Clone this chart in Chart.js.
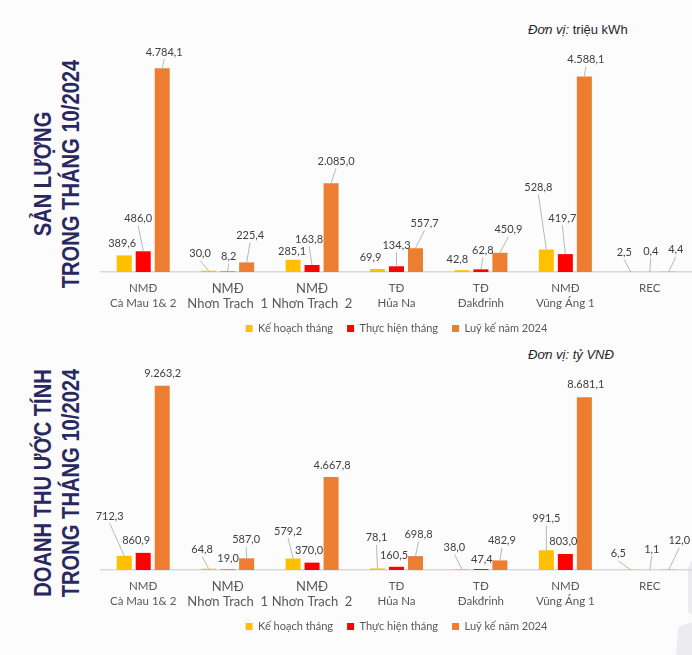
<!DOCTYPE html>
<html lang="vi">
<head>
<meta charset="utf-8">
<title>Sản lượng và doanh thu tháng 10/2024</title>
<script src="https://cdn.jsdelivr.net/npm/chart.js@4.4.1/dist/chart.umd.min.js"></script>
<style>
  body { margin: 0; background: #fcfcfd; }
  #wrap { position: relative; width: 692px; height: 655px; overflow: hidden; background: #fcfcfd; }
  canvas { position: absolute; left: 0; }
  .vtitle {
    position: absolute; width: 320px; height: 44px; line-height: 22px;
    font: bold 24px "Liberation Sans", Arial, sans-serif; color: #2a2860;
    text-align: center; white-space: nowrap;
    transform: rotate(-90deg) scaleX(0.84);
  }
  .unit {
    position: absolute; left: 528px; font: 13px "Liberation Sans", Arial, sans-serif;
    color: #262626; line-height: 16px; white-space: nowrap;
  }
  .deco { position: absolute; background: #ececee; }
</style>
</head>
<body>
<div id="wrap">
  <div class="deco" style="left:682px;top:560px;width:10px;height:55px;clip-path:polygon(60% 15%,100% 0,100% 100%,60% 95%)"></div>
  <div class="deco" style="left:676px;top:622px;width:16px;height:33px;clip-path:polygon(15% 15%,100% 0,100% 100%,0 100%)"></div>

  <div class="vtitle" style="left:-109px;top:152px">SẢN LƯỢNG<br>TRONG THÁNG 10/2024</div>
  <div class="vtitle" style="left:-109px;top:461px">DOANH THU ƯỚC TÍNH<br>TRONG THÁNG 10/2024</div>

  <div class="unit" style="top:22px"><i>Đơn vị:</i> triệu kWh</div>
  <div class="unit" style="top:347px"><i>Đơn vị: tỷ VNĐ</i></div>

  <canvas id="outputChart" width="692" height="344" style="top:0"></canvas>
  <canvas id="revenueChart" width="692" height="344" style="top:298px"></canvas>
</div>

<script>
// categories (plants)
const categories = [
  ['NMĐ', 'Cà Mau 1& 2'],
  ['NMĐ', 'Nhơn Trạch  1'],
  ['NMĐ', 'Nhơn Trạch  2'],
  ['TĐ', 'Hủa Na'],
  ['TĐ', 'Đakđrinh'],
  ['NMĐ', 'Vũng Áng 1'],
  ['REC']
];
const seriesNames = ['Kế hoạch tháng', 'Thực hiện tháng', 'Luỹ kế năm 2024'];

// Sản lượng (triệu kWh)
const outputPlan   = [389.6, 30.0, 285.1, 69.9, 42.8, 528.8, 2.5];
const outputActual = [486.0, 8.2, 163.8, 134.3, 62.8, 419.7, 0.4];
const outputYtd    = [4784.1, 225.4, 2085.0, 557.7, 450.9, 4588.1, 4.4];

// Doanh thu (tỷ VNĐ)
const revenuePlan   = [712.3, 64.8, 579.2, 78.1, 38.0, 991.5, 6.5];
const revenueActual = [860.9, 19.0, 370.0, 160.5, 47.4, 803.0, 1.1];
const revenueYtd    = [9263.2, 587.0, 4667.8, 698.8, 482.9, 8681.1, 12.0];

const outputMax = 5000;
const revenueMax = 10000;

const seriesColors = ['#FFC000', '#FF0000', '#ED7D31'];

// where each value label sits, in px from the top of its bar (layout only)
const outputLabelPos = [
  [[-2, -12], [-8.5, -17], [-1, -8], [-7, -12], [-4.5, -11], [-8, -62], [-6.5, -19]],
  [[-5, -33], [1, -15], [-3, -26], [0, -21], [2, -19], [-3, -36], [1, -21]],
  [[2, -16], [3.5, -27], [5, -22], [9, -25], [8.5, -23], [1.5, -17], [7, -22]]
];
const revenueLabelPos = [
  [[-14.5, -39.5], [-6.5, -19], [-5, -27.5], [-1, -30.5], [-7.5, -22], [0, -31.5], [-12.5, -16]],
  [[-7, -12], [0.5, -11], [-3, -12], [-2.5, -11], [1, -10], [-2, -13], [2, -21]],
  [[0.5, -12.5], [-0.5, -18.5], [1, -12], [3, -21.5], [2, -19.5], [1.5, -12.5], [10.5, -29]]
];

const uiFont = 'Lato, "Liberation Sans", sans-serif';

// 4784.1 -> "4.784,1"
function fmtVN(v) {
  const parts = v.toFixed(1).split('.');
  return parts[0].replace(/\B(?=(\d{3})+(?!\d))/g, '.') + ',' + parts[1];
}

// value labels with thin leader lines (like Excel callouts)
const leaderLabels = {
  id: 'leaderLabels',
  afterDatasetsDraw(chart, args, opts) {
    const ctx = chart.ctx;
    ctx.save();
    ctx.font = '11px ' + uiFont;
    ctx.textAlign = 'center';
    ctx.textBaseline = 'middle';
    chart.data.datasets.forEach((ds, di) => {
      chart.getDatasetMeta(di).data.forEach((bar, i) => {
        const [dx, dy] = opts.positions[di][i];
        const lx = bar.x + dx;
        const ly = bar.y + dy;
        if (dy <= -15) {
          ctx.strokeStyle = '#a6a6a6';
          ctx.lineWidth = 0.8;
          ctx.beginPath();
          ctx.moveTo(lx, ly + 7);
          ctx.lineTo(bar.x, bar.y);
          ctx.stroke();
        }
        ctx.fillStyle = '#404040';
        ctx.fillText(fmtVN(ds.data[i]), lx, ly);
      });
    });
    ctx.restore();
  }
};

function makeChart(id, series, yMax, labelPos, padTop) {
  return new Chart(document.getElementById(id), {
    type: 'bar',
    data: {
      labels: categories,
      datasets: series.map((d, i) => ({
        label: seriesNames[i],
        data: d,
        backgroundColor: seriesColors[i],
        categoryPercentage: 0.675,
        barPercentage: 0.79
      }))
    },
    options: {
      responsive: false,
      animation: false,
      events: [],
      layout: { padding: { top: padTop, left: 101, right: 0, bottom: 0 } },
      scales: {
        x: {
          grid: { display: false, drawTicks: false },
          border: { color: '#d9d9d9', width: 1.5 },
          ticks: {
            autoSkip: false,
            maxRotation: 0,
            padding: 9,
            color: '#595959',
            font: c => ({ family: uiFont, size: (c.index === 1 || c.index === 2) ? 13 : 11.5, lineHeight: '15px' })
          },
          afterFit: s => { s.height = 37; }
        },
        y: { display: false, min: 0, max: yMax }
      },
      plugins: {
        legend: {
          position: 'bottom',
          labels: {
            boxWidth: 7,
            boxHeight: 7,
            padding: 14,
            color: '#595959',
            font: { family: uiFont, size: 11 }
          }
        },
        tooltip: { enabled: false },
        leaderLabels: { positions: labelPos }
      }
    },
    plugins: [leaderLabels]
  });
}

makeChart('outputChart', [outputPlan, outputActual, outputYtd], outputMax, outputLabelPos, 59);
makeChart('revenueChart', [revenuePlan, revenueActual, revenueYtd], revenueMax, revenueLabelPos, 73);
</script>
</body>
</html>
